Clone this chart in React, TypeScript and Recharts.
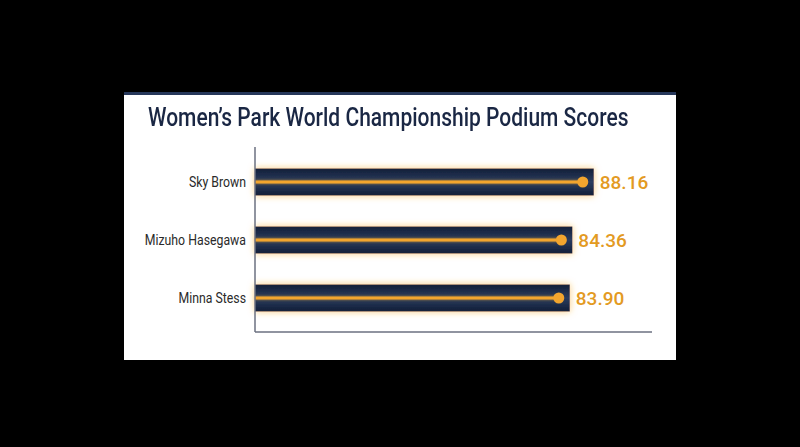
// Women's Park World Championship podium scores — horizontal bar chart
import React from 'react';
import { BarChart, Bar, XAxis, YAxis, LabelList } from 'recharts';

// ---- data ----
const riders = ['Sky Brown', 'Mizuho Hasegawa', 'Minna Stess'];
const scores = [88.16, 84.36, 83.9];

const chartData = riders.map((name, i) => ({ name, score: scores[i] }));

const AMBER = '#e39a22';
const TRACK = '#f2a52e';

// bar with a glowing outline, a centre track line and an end dot
const TrackBar = (props: any) => {
  const { x, y, width, height } = props;
  if (width == null || width <= 0) return null;
  const cy = y + height / 2;
  const dotX = x + width - 11;
  return (
    <g>
      <rect x={x} y={y} width={width} height={height} fill="url(#barFill)" filter="url(#glow)" />
      <rect x={x} y={cy - 1.5} width={dotX - x} height={3} fill={TRACK} filter="url(#lineGlow)" />
      <circle cx={dotX} cy={cy} r={5.5} fill={TRACK} />
    </g>
  );
};

const NameTick = (props: any) => {
  const { x, y, payload } = props;
  return (
    <g transform={`translate(${x},${y})`}>
      <text
        transform="scale(0.82,1)"
        textAnchor="end"
        dy={5}
        fontSize={15}
        fill="#2a2a2a"
        fontFamily="Roboto, sans-serif"
      >
        {payload.value}
      </text>
    </g>
  );
};

export default function App() {
  return (
    <div
      style={{
        position: 'fixed',
        left: 0,
        top: 0,
        width: 800,
        height: 447,
        background: '#000',
        overflow: 'hidden',
      }}
    >
      {/* card */}
      <div
        style={{
          position: 'absolute',
          left: 124,
          top: 92,
          width: 552,
          height: 268,
          background: '#fff',
          borderTop: '3px solid #26375a',
          boxSizing: 'border-box',
        }}
      />
      <div
        style={{
          position: 'absolute',
          left: 148,
          top: 103,
          fontFamily: 'Roboto, sans-serif',
          fontSize: 25,
          fontWeight: 500,
          color: '#1a2744',
          whiteSpace: 'nowrap',
          transform: 'scaleX(0.84)',
          transformOrigin: 'left center',
          lineHeight: '30px',
        }}
      >
        Women’s Park World Championship Podium Scores
      </div>
      <div style={{ position: 'absolute', left: 0, top: 0 }}>
        <BarChart
          width={800}
          height={447}
          data={chartData}
          layout="vertical"
          margin={{ top: 147, right: 148, bottom: 114, left: 0 }}
        >
          <defs>
            <linearGradient id="barFill" x1="0" y1="0" x2="0" y2="1">
              <stop offset="0%" stopColor="#121e38" />
              <stop offset="50%" stopColor="#2a3c5e" />
              <stop offset="100%" stopColor="#121e38" />
            </linearGradient>
            <filter id="glow" x="-10%" y="-60%" width="120%" height="220%">
              <feDropShadow dx="0" dy="0" stdDeviation="3.5" floodColor="#f5a623" floodOpacity="0.6" />
            </filter>
            <filter id="lineGlow" x="-5%" y="-300%" width="110%" height="700%">
              <feDropShadow dx="0" dy="0" stdDeviation="1.5" floodColor="#f5a623" floodOpacity="0.7" />
            </filter>
          </defs>
          <XAxis
            type="number"
            domain={[28, 98.5]}
            tick={false}
            tickLine={false}
            height={1}
            axisLine={{ stroke: '#6b7080', strokeWidth: 1.5 }}
          />
          <YAxis
            type="category"
            dataKey="name"
            width={255}
            tickLine={false}
            tickMargin={3}
            tick={<NameTick />}
            axisLine={{ stroke: '#6b7080', strokeWidth: 1.5 }}
            padding={{ top: 5.5, bottom: 5.5 }}
          />
          <Bar dataKey="score" barSize={27} shape={<TrackBar />} isAnimationActive={false}>
            <LabelList
              dataKey="score"
              position="right"
              offset={6}
              formatter={(v: any) => Number(v).toFixed(2)}
              fill={AMBER}
              fontSize={19}
              fontWeight={500}
              fontFamily="Roboto, sans-serif"
            />
          </Bar>
        </BarChart>
      </div>
    </div>
  );
}
